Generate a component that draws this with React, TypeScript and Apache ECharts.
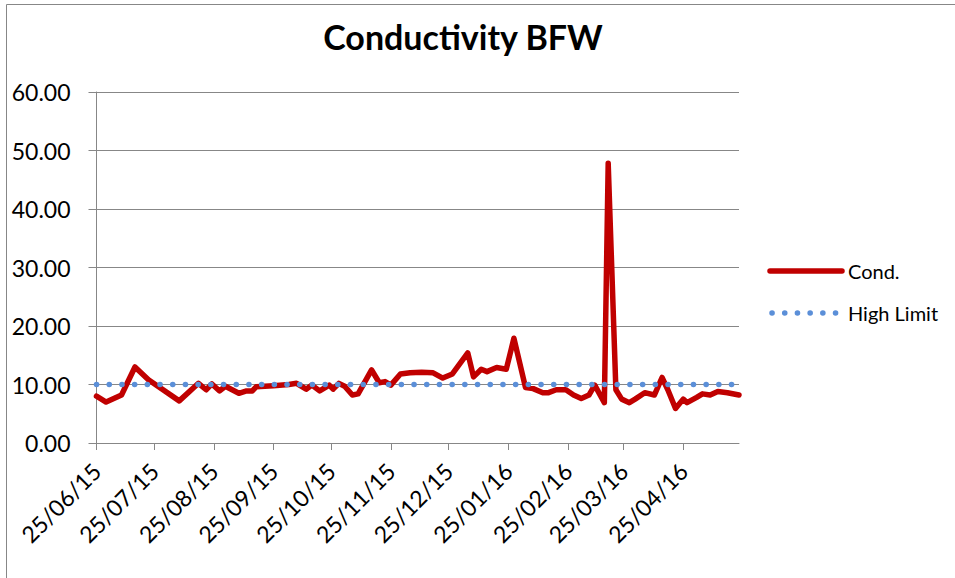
import React, { useEffect, useRef } from "react";
import * as echarts from "echarts";

// Sample dates (ISO form) and conductivity readings
const sampleDates = [
  "2015-06-25", "2015-06-30", "2015-07-08", "2015-07-15", "2015-07-22",
  "2015-08-07", "2015-08-17", "2015-08-21", "2015-08-24", "2015-08-28",
  "2015-08-31", "2015-09-07", "2015-09-11", "2015-09-14", "2015-09-16",
  "2015-09-25", "2015-10-03", "2015-10-07", "2015-10-12", "2015-10-15",
  "2015-10-19", "2015-10-24", "2015-10-26", "2015-10-29", "2015-11-01",
  "2015-11-05", "2015-11-08", "2015-11-15", "2015-11-19", "2015-11-22",
  "2015-11-25", "2015-11-30", "2015-12-05", "2015-12-11", "2015-12-17",
  "2015-12-22", "2015-12-27", "2016-01-04", "2016-01-07", "2016-01-11",
  "2016-01-14", "2016-01-19", "2016-01-24", "2016-01-28", "2016-02-03",
  "2016-02-07", "2016-02-12", "2016-02-15", "2016-02-19", "2016-02-24",
  "2016-02-28", "2016-03-03", "2016-03-07", "2016-03-10", "2016-03-15",
  "2016-03-17", "2016-03-21", "2016-03-24", "2016-03-28", "2016-03-31",
  "2016-04-05", "2016-04-10", "2016-04-14", "2016-04-17", "2016-04-21",
  "2016-04-25", "2016-04-27", "2016-05-02", "2016-05-05", "2016-05-09",
  "2016-05-13", "2016-05-18", "2016-05-24",
];

const condValues = [
  8.0, 7.0, 8.2, 13.0, 10.8,
  7.2, 10.2, 9.1, 10.1, 8.9,
  9.7, 8.5, 8.9, 8.9, 9.6,
  9.8, 10.0, 10.2, 9.2, 9.9,
  8.9, 9.9, 9.2, 10.2, 9.7,
  8.2, 8.4, 12.5, 10.3, 10.5,
  9.9, 11.8, 12.0, 12.1, 12.0,
  11.1, 11.8, 15.4, 11.3, 12.6,
  12.2, 12.9, 12.6, 17.9, 9.5,
  9.3, 8.6, 8.6, 9.1, 9.1,
  8.2, 7.6, 8.2, 9.9, 6.9,
  47.8, 9.1, 7.5, 6.9, 7.5,
  8.6, 8.2, 11.2, 9.1, 5.9,
  7.5, 6.9, 7.8, 8.4, 8.2,
  8.8, 8.6, 8.2,
];

// High limit line spans the whole sampling period
const limitDates = ["2015-06-25", "2016-05-24"];
const limitValues = [10, 10];

// Monthly tick marks on the 25th
const tickDates = [
  "2015-06-25", "2015-07-25", "2015-08-25", "2015-09-25", "2015-10-25",
  "2015-11-25", "2015-12-25", "2016-01-25", "2016-02-25", "2016-03-25",
  "2016-04-25",
];

const yTicks = [0, 10, 20, 30, 40, 50, 60];

const toTime = (s: string) => {
  const [y, m, d] = s.split("-").map(Number);
  return new Date(y, m - 1, d).getTime();
};

const fmtDate = (t: number) => {
  const d = new Date(t);
  const dd = String(d.getDate()).padStart(2, "0");
  const mm = String(d.getMonth() + 1).padStart(2, "0");
  const yy = String(d.getFullYear() % 100).padStart(2, "0");
  return `${dd}/${mm}/${yy}`;
};

const FONT = "Lato, 'Noto Sans', sans-serif";
const GRAY = "#878787";
const RED = "#C00000";
const BLUE = "#5B8FD8";
const DOTS = [0.1, 12.6];

export default function App() {
  const ref = useRef<HTMLDivElement>(null);

  useEffect(() => {
    if (!ref.current) return;
    const chart = echarts.init(ref.current, undefined, { renderer: "svg" });
    const ticks = tickDates.map(toTime);

    chart.setOption({
      animation: false,
      backgroundColor: "#ffffff",
      title: {
        text: "Conductivity BFW",
        left: 458,
        textAlign: "center",
        top: 14,
        textStyle: {
          fontFamily: FONT,
          fontWeight: "bold",
          fontSize: 34,
          color: "#000000",
        },
      },
      grid: { left: 96.5, right: 216, top: 92, bottom: 135 },
      xAxis: {
        type: "value",
        min: toTime(sampleDates[0]),
        max: toTime(sampleDates[sampleDates.length - 1]),
        splitLine: { show: false },
        axisLine: { lineStyle: { color: GRAY, width: 1 } },
        axisTick: {
          show: true,
          length: 7,
          customValues: ticks,
          lineStyle: { color: GRAY },
        },
        axisLabel: {
          customValues: ticks,
          rotate: 45,
          margin: 24,
          fontFamily: FONT,
          fontSize: 23,
          color: "#000000",
          formatter: (v: number) => fmtDate(v),
        },
      },
      yAxis: {
        type: "value",
        min: yTicks[0],
        max: yTicks[yTicks.length - 1],
        interval: 10,
        axisLine: { show: true, lineStyle: { color: GRAY, width: 1 } },
        axisTick: { show: true, length: 8, lineStyle: { color: GRAY } },
        splitLine: { show: true, lineStyle: { color: GRAY, width: 1 } },
        axisLabel: {
          margin: 26,
          fontFamily: FONT,
          fontSize: 23,
          color: "#000000",
          formatter: (v: number) => v.toFixed(2),
        },
      },
      series: [
        {
          name: "Cond.",
          type: "line",
          symbol: "none",
          data: sampleDates.map((d, i) => [toTime(d), condValues[i]]),
          lineStyle: { color: RED, width: 5.5, join: "round", cap: "round" },
          itemStyle: { color: RED },
          z: 3,
        },
        {
          name: "High Limit",
          type: "line",
          symbol: "none",
          data: limitDates.map((d, i) => [toTime(d), limitValues[i]]),
          lineStyle: { color: BLUE, width: 5.5, type: DOTS, cap: "round" },
          itemStyle: { color: BLUE },
          z: 4,
        },
      ],
      graphic: [
        {
          type: "rect",
          shape: { x: 6.5, y: 4.5, width: 1000, height: 1000 },
          style: { fill: "none", stroke: GRAY, lineWidth: 1 },
          silent: true,
        },
        // Legend: Cond.
        {
          type: "line",
          shape: { x1: 770, y1: 271, x2: 842, y2: 271 },
          style: { stroke: RED, lineWidth: 5.5, lineCap: "round" },
          silent: true,
        },
        {
          type: "text",
          x: 848,
          y: 271,
          style: {
            text: "Cond.",
            fontFamily: FONT,
            fontSize: 20,
            fill: "#000000",
            verticalAlign: "middle",
          },
          silent: true,
        },
        // Legend: High Limit
        {
          type: "line",
          shape: { x1: 772, y1: 313, x2: 836.5, y2: 313 },
          style: { stroke: BLUE, lineWidth: 5.5, lineCap: "round", lineDash: DOTS },
          silent: true,
        },
        {
          type: "text",
          x: 848,
          y: 313,
          style: {
            text: "High Limit",
            fontFamily: FONT,
            fontSize: 20,
            fill: "#000000",
            verticalAlign: "middle",
          },
          silent: true,
        },
      ],
    });

    return () => chart.dispose();
  }, []);

  return (
    <div style={{ position: "fixed", left: 0, top: 0, width: 955, height: 578 }}>
      <div ref={ref} style={{ width: 955, height: 578 }} />
    </div>
  );
}
